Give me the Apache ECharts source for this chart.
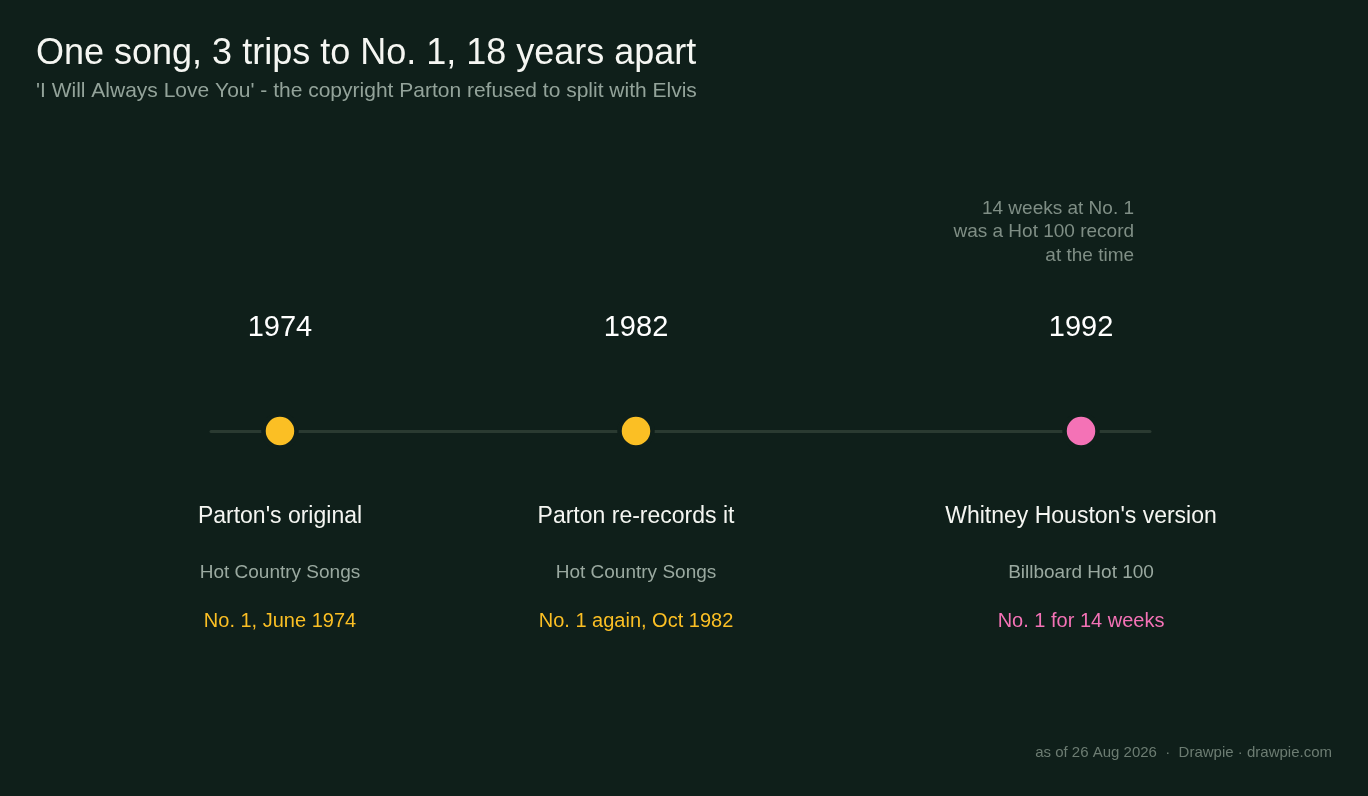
<!DOCTYPE html>
<html>
<head>
<meta charset="utf-8">
<script src="https://cdn.jsdelivr.net/npm/echarts@6/dist/echarts.min.js"></script>
<style>
  html, body { margin: 0; padding: 0; background: #0f1f1a; }
  #main { width: 1368px; height: 796px; }
</style>
</head>
<body>
<div id="main"></div>
<script>
// data
var years = [1974, 1982, 1992];
var versions = ["Parton's original", 'Parton re-records it', "Whitney Houston's version"];
var chartNames = ['Hot Country Songs', 'Hot Country Songs', 'Billboard Hot 100'];
var results = ['No. 1, June 1974', 'No. 1 again, Oct 1982', 'No. 1 for 14 weeks'];
var dotColors = ['#fbbf24', '#fbbf24', '#f472b6'];
var notes = ['', '', '14 weeks at No. 1\nwas a Hot 100 record\nat the time'];

var BG = '#0f1f1a';
var FONT = "'Liberation Sans', Arial, sans-serif";

var myChart = echarts.init(document.getElementById('main'));

// points on the zero line
var dots = years.map(function (y, i) {
  return {
    value: [y, 0],
    itemStyle: { color: dotColors[i] },
    label: {
      rich: {
        n: { color: dotColors[i], fontSize: 20, fontFamily: FONT, lineHeight: 46 }
      }
    }
  };
});

var option = {
  backgroundColor: BG,
  animation: false,
  title: [
    {
      text: 'One song, 3 trips to No. 1, 18 years apart',
      subtext: "'I Will Always Love You' - the copyright Parton refused to split with Elvis",
      left: 36,
      top: 36,
      padding: 0,
      itemGap: 9,
      textStyle: { color: '#f5f6f2', fontSize: 36, fontWeight: 'normal', fontFamily: FONT },
      subtextStyle: { color: '#93a39a', fontSize: 21, fontFamily: FONT }
    },
    {
      text: 'as of 26 Aug 2026  \u00b7  Drawpie \u00b7 drawpie.com',
      right: 36,
      top: 745,
      padding: 0,
      textStyle: { color: '#6c7c72', fontSize: 15, fontWeight: 'normal', fontFamily: FONT }
    }
  ],
  grid: { left: 211, right: 218, top: 331, bottom: 265 },
  xAxis: {
    type: 'value',
    min: 1972.45,
    max: 1993.55,
    axisLine: { show: true, onZero: true, lineStyle: { color: '#2a3a31', width: 3 } },
    axisTick: { show: false },
    axisLabel: { show: false },
    splitLine: { show: false }
  },
  yAxis: {
    type: 'value',
    min: -1,
    max: 1,
    show: false
  },
  series: [
    {
      // year above each dot
      type: 'scatter',
      data: years.map(function (y) { return [y, 0]; }),
      symbolSize: 0,
      silent: true,
      itemStyle: { opacity: 1 },
      label: {
        show: true,
        position: 'inside',
        offset: [0, -103],
        color: '#ffffff',
        fontSize: 29,
        fontFamily: FONT,
        formatter: function (p) { return years[p.dataIndex]; }
      }
    },
    {
      // version / chart / result block below
      type: 'scatter',
      data: dots,
      symbolSize: 0,
      silent: true,
      itemStyle: { opacity: 1 },
      label: {
        show: true,
        position: 'inside',
        offset: [0, 134],
        formatter: function (p) {
          var i = p.dataIndex;
          return '{t|' + versions[i] + '}\n{s|' + chartNames[i] + '}\n{n|' + results[i] + '}';
        },
        rich: {
          t: { color: '#f5f6f2', fontSize: 23, fontFamily: FONT, lineHeight: 62 },
          s: { color: '#9aa9a0', fontSize: 19, fontFamily: FONT, lineHeight: 50 }
        }
      }
    },
    {
      // side note
      type: 'scatter',
      data: years.map(function (y) { return [y, 0]; }),
      symbolSize: 0,
      silent: true,
      itemStyle: { opacity: 1 },
      label: {
        show: true,
        position: 'inside',
        offset: [53, -199],
        align: 'right',
        color: '#7f8e85',
        fontSize: 19,
        lineHeight: 23.5,
        fontFamily: FONT,
        formatter: function (p) { return notes[p.dataIndex]; }
      }
    },
    {
      type: 'scatter',
      data: dots.map(function (d) { return { value: d.value, itemStyle: d.itemStyle }; }),
      symbol: 'circle',
      symbolSize: 33,
      z: 5,
      itemStyle: { borderColor: BG, borderWidth: 4.5, opacity: 1 }
    }
  ]
};

myChart.setOption(option);
</script>
</body>
</html>
